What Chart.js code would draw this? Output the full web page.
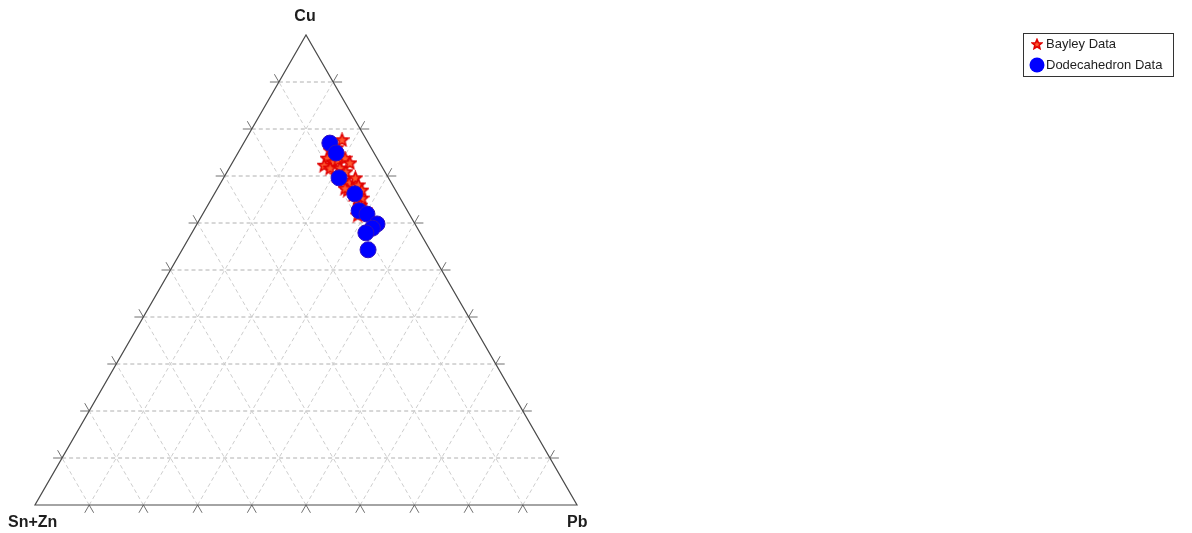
<!DOCTYPE html>
<html>
<head>
<meta charset="utf-8">
<script src="https://cdn.jsdelivr.net/npm/chart.js@4.4.1/dist/chart.umd.min.js"></script>
<style>
    html, body { margin: 0; padding: 0; background: #ffffff; }
    #wrap { width: 1192px; height: 533px; }
</style>
</head>
<body>
<div id="wrap"><canvas id="ternary" width="1192" height="533"></canvas></div>
<script>
// corner labels
var cornerTop = 'Cu';
var cornerLeft = 'Sn+Zn';
var cornerRight = 'Pb';

// Bayley data (percent)
var bayleyCu   = [77.7, 75.5, 76.0, 73.8, 73.0, 73.4, 73.8, 72.8, 72.3, 71.7, 71.7, 70.9, 70.2, 69.1, 68.5, 69.6, 68.1, 67.0, 67.0, 66.0, 64.9, 65.3, 67.4, 63.8, 62.8, 61.7];
var bayleyPb   = [17.8, 16.7, 17.6, 17.0, 18.5, 19.2, 20.3, 21.7, 17.2, 18.6, 20.4, 21.9, 20.6, 22.4, 23.7, 24.3, 25.6, 26.8, 24.2, 25.7, 27.0, 27.7, 23.5, 28.1, 29.5, 28.7];
var bayleySnZn = [4.5, 7.8, 6.4, 9.2, 8.5, 7.4, 5.9, 5.5, 10.5, 9.7, 7.9, 7.2, 9.2, 8.5, 7.8, 6.1, 6.3, 6.2, 8.8, 8.3, 8.1, 7.0, 9.1, 8.1, 7.7, 9.6];

// Dodecahedron data (percent)
var dodecaCu   = [77.0, 74.9, 69.6, 66.2, 62.6, 61.9, 59.8, 58.9, 57.9, 54.3];
var dodecaPb   = [15.9, 18.1, 21.3, 25.9, 28.5, 30.3, 33.2, 32.8, 32.1, 34.3];
var dodecaSnZn = [7.1, 7.0, 9.1, 7.9, 8.9, 7.8, 7.0, 8.3, 10.0, 11.4];

var gridSteps = [10, 20, 30, 40, 50, 60, 70, 80, 90];

var H = Math.sqrt(3) / 2;

// ternary -> cartesian (Pb to the right, Cu up)
function toXY(cu, pb, snzn) {
    var t = cu + pb + snzn;
    cu = cu / t; pb = pb / t;
    return { x: pb + cu / 2, y: cu * H };
}

function buildPoints(cu, pb, snzn) {
    var pts = [];
    for (var i = 0; i < cu.length; i++) {
        pts.push(toXY(cu[i], pb[i], snzn[i]));
    }
    return pts;
}

// five pointed star marker
function makeStar(size) {
    var c = document.createElement('canvas');
    c.width = size; c.height = size;
    var g = c.getContext('2d');
    var cx = size / 2, cy = size / 2 + 0.5;
    var ro = size / 2 - 1, ri = ro * 0.45;
    g.beginPath();
    for (var k = 0; k < 10; k++) {
        var r = (k % 2 === 0) ? ro : ri;
        var a = -Math.PI / 2 + k * Math.PI / 5;
        var px = cx + r * Math.cos(a), py = cy + r * Math.sin(a);
        if (k === 0) g.moveTo(px, py); else g.lineTo(px, py);
    }
    g.closePath();
    g.fillStyle = '#ff5a30';
    g.fill();
    g.lineWidth = 1.6;
    g.strokeStyle = '#e00000';
    g.stroke();
    return c;
}

var starImg = makeStar(15);

function pix(chart, cu, pb, snzn) {
    var p = toXY(cu, pb, snzn);
    return {
        x: chart.scales.x.getPixelForValue(p.x),
        y: chart.scales.y.getPixelForValue(p.y)
    };
}

function segment(ctx, a, b) {
    ctx.beginPath();
    ctx.moveTo(a.x, a.y);
    ctx.lineTo(b.x, b.y);
    ctx.stroke();
}

var ternaryFrame = {
    id: 'ternaryFrame',
    beforeDatasetsDraw: function (chart) {
        var ctx = chart.ctx;
        ctx.save();

        var lines = [];
        gridSteps.forEach(function (f) {
            lines.push({ a: pix(chart, f, 0, 100 - f), b: pix(chart, f, 100 - f, 0), horiz: true });
            lines.push({ a: pix(chart, 0, f, 100 - f), b: pix(chart, 100 - f, f, 0), horiz: false });
            lines.push({ a: pix(chart, 0, 100 - f, f), b: pix(chart, 100 - f, 0, f), horiz: false });
        });

        // dashed grid
        ctx.lineWidth = 1;
        ctx.setLineDash([4, 3]);
        lines.forEach(function (l) {
            ctx.strokeStyle = l.horiz ? '#b0b0b0' : '#cdcdcd';
            segment(ctx, l.a, l.b);
        });
        ctx.setLineDash([]);

        // tick marks: grid lines carried past the edges
        ctx.strokeStyle = '#707070';
        var L = 9;
        lines.forEach(function (l) {
            var dx = l.b.x - l.a.x, dy = l.b.y - l.a.y;
            var len = Math.sqrt(dx * dx + dy * dy);
            dx /= len; dy /= len;
            segment(ctx, l.a, { x: l.a.x - dx * L, y: l.a.y - dy * L });
            segment(ctx, l.b, { x: l.b.x + dx * L, y: l.b.y + dy * L });
        });

        // outline
        var top = pix(chart, 100, 0, 0), left = pix(chart, 0, 0, 100), right = pix(chart, 0, 100, 0);
        ctx.strokeStyle = '#4a4a4a';
        ctx.lineWidth = 1.2;
        ctx.beginPath();
        ctx.moveTo(left.x, left.y);
        ctx.lineTo(right.x, right.y);
        ctx.lineTo(top.x, top.y);
        ctx.closePath();
        ctx.stroke();

        // corner names
        ctx.fillStyle = '#1e1e1e';
        ctx.font = 'bold 16px "Liberation Sans", Arial, sans-serif';
        ctx.textBaseline = 'middle';
        ctx.textAlign = 'center';
        ctx.fillText(cornerTop, top.x - 1, top.y - 18);
        ctx.textAlign = 'left';
        ctx.fillText(cornerLeft, left.x - 27, left.y + 18);
        ctx.fillText(cornerRight, right.x - 10, right.y + 18);
        ctx.restore();
    },
    afterDraw: function (chart) {
        var ctx = chart.ctx;
        ctx.save();
        var bx = 1023, by = 33, bw = 150, bh = 43;
        ctx.fillStyle = '#ffffff';
        ctx.fillRect(bx, by, bw, bh);
        ctx.strokeStyle = '#333333';
        ctx.lineWidth = 1;
        ctx.strokeRect(bx + 0.5, by + 0.5, bw, bh);

        ctx.drawImage(makeStar(12), bx + 8, by + 5);
        ctx.beginPath();
        ctx.arc(bx + 14, by + 32, 7.5, 0, Math.PI * 2);
        ctx.fillStyle = '#0000ff';
        ctx.fill();

        ctx.fillStyle = '#1e1e1e';
        ctx.font = '13px "Liberation Sans", Arial, sans-serif';
        ctx.textBaseline = 'middle';
        ctx.textAlign = 'left';
        ctx.fillText(chart.data.datasets[1].label, bx + 23, by + 11);
        ctx.fillText(chart.data.datasets[0].label, bx + 23, by + 32);
        ctx.restore();
    }
};

var options = {
    type: 'scatter',
    data: {
        datasets: [
            {
                label: 'Dodecahedron Data',
                data: buildPoints(dodecaCu, dodecaPb, dodecaSnZn),
                pointStyle: 'circle',
                pointRadius: 8,
                backgroundColor: '#0000ff',
                borderColor: '#3010c0',
                borderWidth: 1,
                order: 0
            },
            {
                label: 'Bayley Data',
                data: buildPoints(bayleyCu, bayleyPb, bayleySnZn),
                pointStyle: starImg,
                pointRadius: 7,
                order: 1
            }
        ]
    },
    options: {
        responsive: false,
        animation: false,
        layout: {
            padding: { left: 35, right: 615, top: 35, bottom: 28 }
        },
        scales: {
            x: { type: 'linear', min: 0, max: 1, display: false },
            y: { type: 'linear', min: 0, max: H, display: false }
        },
        plugins: {
            legend: { display: false },
            tooltip: { enabled: false }
        }
    },
    plugins: [ternaryFrame]
};

var ctx = document.getElementById('ternary').getContext('2d');
var theChart = new Chart(ctx, options);
</script>
</body>
</html>
